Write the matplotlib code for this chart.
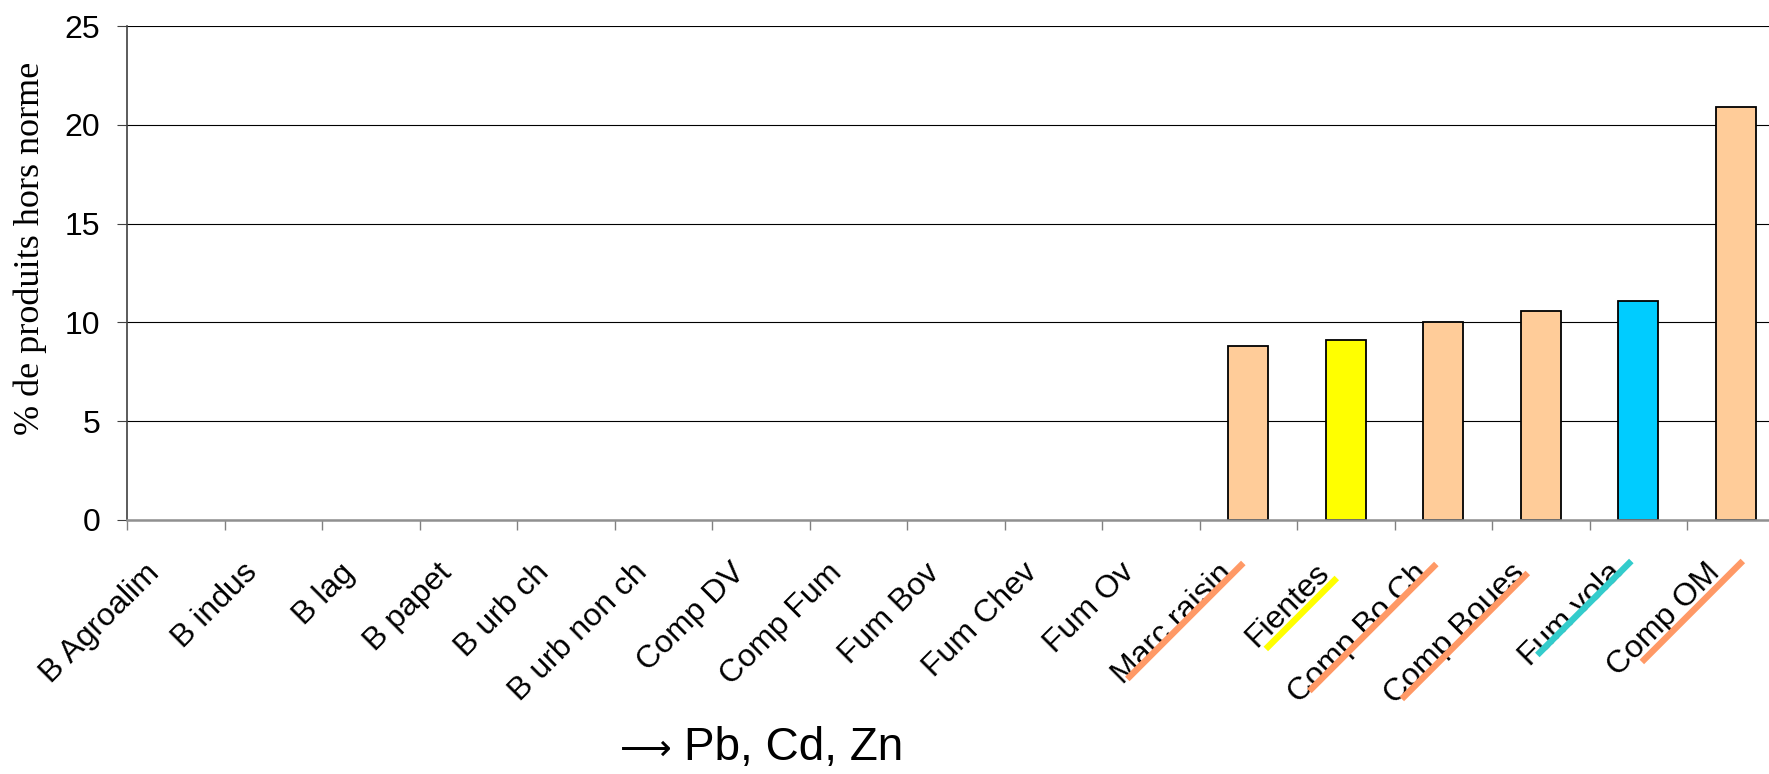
import matplotlib
matplotlib.use('Agg')
import matplotlib.pyplot as plt
from matplotlib.transforms import offset_copy
import numpy as np

# ---------------------------------------------------------------------------
# Data
# ---------------------------------------------------------------------------
categories = ['B Agroalim', 'B indus', 'B lag', 'B papet', 'B urb ch',
              'B urb non ch', 'Comp DV', 'Comp Fum', 'Fum Bov', 'Fum Chev',
              'Fum Ov', 'Marc raisin', 'Fientes', 'Comp Bo Ch', 'Comp Boues',
              'Fum vola', 'Comp OM']
values = [0, 0, 0, 0, 0, 0, 0, 0, 0, 0, 0,
          8.8, 9.1, 10.0, 10.6, 11.1, 20.9]
y_ticks = [0, 5, 10, 15, 20, 25]
y_label = '% de produits hors norme'
note_arrow = '\u27f6'
note_text = 'Pb, Cd, Zn'

# ---------------------------------------------------------------------------
# Styles
# ---------------------------------------------------------------------------
PEACH, YELLOW, CYAN = '#FFCC99', '#FFFF00', '#00CCFF'
ORANGE_LINE, YELLOW_LINE, TEAL_LINE = '#FF9966', '#FFFF00', '#33CCCC'

bar_colors = {'Fientes': YELLOW, 'Fum vola': CYAN}
# underline: colour, end offset from category centre (px right, px below axis), length (px)
underlines = {
    'Marc raisin': (ORANGE_LINE, -5, 43, 116),
    'Fientes':     (YELLOW_LINE, -9, 58, 71),
    'Comp Bo Ch':  (ORANGE_LINE, -7, 44, 127),
    'Comp Boues':  (ORANGE_LINE, -13, 53, 126),
    'Fum vola':    (TEAL_LINE, -7, 41, 94),
    'Comp OM':     (ORANGE_LINE, 7, 41, 101),
}

SANS = ['Liberation Sans', 'DejaVu Sans']
SERIF = ['Liberation Serif', 'DejaVu Serif']

fig = plt.figure(figsize=(17.69, 7.74), dpi=100)
ax = fig.add_axes([0.0718, 0.3282, 0.937, 0.6382])

x = np.arange(len(categories))
colors = [bar_colors.get(c, PEACH) for c in categories]
edge_w = [1.3 if v > 0 else 0 for v in values]
ax.bar(x, values, width=0.41, color=colors, edgecolor='black',
       linewidth=edge_w, zorder=3)

ax.set_xlim(-0.5, len(categories) - 0.5)
ax.set_ylim(0, 25)
ax.set_yticks(y_ticks)
ax.set_yticklabels([str(t) for t in y_ticks], fontsize=23, family=SANS)
ax.set_xticks(np.arange(-0.5, len(categories), 1))
ax.set_xticklabels([])

ax.yaxis.grid(True, color='black', linewidth=0.8, zorder=0)
ax.set_axisbelow(True)

ax.tick_params(axis='y', direction='out', length=7.2, width=0.8,
               color='#404040', pad=12)
ax.tick_params(axis='x', direction='out', length=7.2, width=1.0,
               color='#808080')

for side in ('top', 'right'):
    ax.spines[side].set_visible(False)
ax.spines['left'].set_color('#404040')
ax.spines['left'].set_linewidth(1.2)
ax.spines['bottom'].set_color('#909090')
ax.spines['bottom'].set_linewidth(1.8)
ax.spines['bottom'].set_zorder(4)

# rotated category labels
for i, name in enumerate(categories):
    tr = offset_copy(ax.get_xaxis_transform(), fig=fig, x=-15, y=-54,
                     units='dots')
    ax.text(i, 0, name, transform=tr, rotation=45, rotation_mode='anchor',
            ha='right', va='baseline', fontsize=23, family=SANS,
            clip_on=False)

# coloured underlines under some labels
for name, (col, ex, ey, length) in underlines.items():
    i = categories.index(name)
    tr = offset_copy(ax.get_xaxis_transform(), fig=fig, x=ex, y=-ey,
                     units='dots')
    ax.annotate('', xy=(i, 0), xycoords=tr,
                xytext=(-length, -length), textcoords='offset pixels',
                arrowprops=dict(arrowstyle='-', color=col, lw=4.6,
                                capstyle='butt', shrinkA=0, shrinkB=0),
                annotation_clip=False)

fig.text(30 / 1769, 1 - 248 / 774, y_label, rotation=90, ha='center',
         va='center', fontsize=26, family=SERIF)
fig.text(646 / 1769, 1 - 750 / 774, note_arrow, ha='center', va='center',
         fontsize=26, family=['DejaVu Sans', 'Noto Sans'])
fig.text(684 / 1769, 1 - 760 / 774, note_text, ha='left', va='baseline',
         fontsize=33, family=SANS)

fig.savefig('out.png', dpi=100)
